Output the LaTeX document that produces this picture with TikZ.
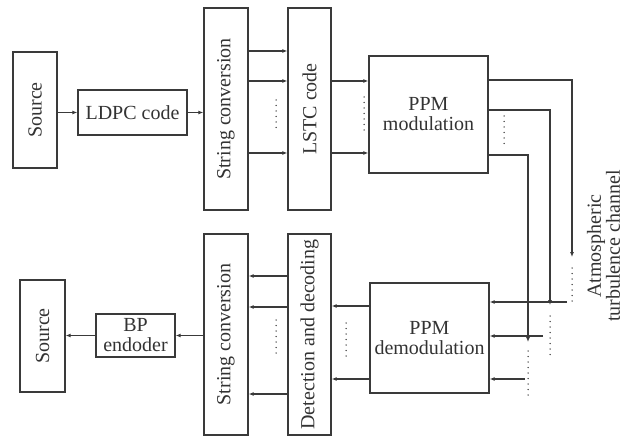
\documentclass[tikz,border=0pt]{standalone}
\usepackage{fontspec}
\setmainfont{Liberation Serif}
\usetikzlibrary{arrows.meta}
\definecolor{ink}{HTML}{333333}
\definecolor{edge}{HTML}{3a3a3a}
\begin{document}
\begin{tikzpicture}[x=1pt,y=1pt,
  block/.style={draw=edge, line width=1.3pt, inner sep=0pt, align=center,
                text=ink, font=\fontsize{20}{20}\selectfont},
  vtext/.style={rotate=90, inner sep=0pt, text=ink, font=\fontsize{20}{21}\selectfont},
  flow/.style={draw=edge, line width=1.2pt, -{Latex[length=5pt,width=4pt]}},
  wire/.style={draw=edge, line width=1.2pt},
  dots/.style={draw=edge, line width=1.5pt, line cap=round, dash pattern=on 0pt off 5.5pt},
]
\useasboundingbox (0,0) rectangle (626,437);

% transmitter chain
\node[block, minimum width=44, minimum height=116] (src1) at (35,327) {};
\node[vtext] at (src1) {Source};
\node[block, minimum width=109, minimum height=45] (ldpc) at (132.5,324.5) {LDPC code};
\node[block, minimum width=44, minimum height=202] (sc1) at (226,328) {};
\node[vtext] at (sc1) {String conversion};
\node[block, minimum width=43, minimum height=202] (lstc) at (309.5,328) {};
\node[vtext] at (lstc) {LSTC code};
\node[block, minimum width=119, minimum height=117] (ppmm) at (428.5,322.5) {PPM\\modulation};

% receiver chain
\node[block, minimum width=119, minimum height=110] (ppmd) at (429.5,99) {PPM\\demodulation};
\node[block, minimum width=43, minimum height=201] (det) at (309.5,102.5) {};
\node[vtext] at (det) {Detection and decoding};
\node[block, minimum width=44, minimum height=201] (sc2) at (226,102.5) {};
\node[vtext] at (sc2) {String conversion};
\node[block, minimum width=79, minimum height=43] (bp) at (135.5,101.5) {BP\\endoder};
\node[block, minimum width=45, minimum height=112] (src2) at (42.5,101) {};
\node[vtext] at (src2) {Source};

% channel label
\node[rotate=90, align=center, inner sep=0pt, text=ink,
      font=\fontsize{20}{17.5}\selectfont] (chan) at (603.5,191) {Atmospheric\\turbulence channel};

% transmitter links
\draw[flow] (ldpc.west -| src1.east) -- (ldpc.west);
\draw[flow] (ldpc.east) -- (ldpc.east -| sc1.west);
\foreach \y in {386,356,284} \draw[flow] (sc1.east |- 0,\y) -- (lstc.west |- 0,\y);
\foreach \y in {356,284} \draw[flow] (lstc.east |- 0,\y) -- (ppmm.west |- 0,\y);
\draw[dots] (276,337) -- (276,307);
\draw[dots] (364,340) -- (364,307);
\draw[dots] (504,321) -- (504,290);

% channel paths
\coordinate (c1) at (572,180);
\coordinate (c2) at (550,132);
\coordinate (c3) at (528,95);
\draw[flow] (ppmm.east |- 0,357) -| (c1);
\draw[flow] (ppmm.east |- 0,327) -| (c2);
\draw[flow] (ppmm.east |- 0,282) -| (c3);
\draw[dots] (572,169) -- (572,134);
\draw[dots] (550,121) -- (550,82);
\draw[dots] (528,86) -- (528,42);
\coordinate (r1) at (567,135);
\coordinate (r2) at (543,101);
\coordinate (r3) at (525,58);
\draw[flow] (r1) -- (ppmd.east |- r1);
\draw[flow] (r2) -- (ppmd.east |- r2);
\draw[flow] (r3) -- (ppmd.east |- r3);

% receiver links
\foreach \y in {131,58} \draw[flow] (ppmd.west |- 0,\y) -- (det.east |- 0,\y);
\draw[dots] (346,114) -- (346,80);
\foreach \y in {161,130,43} \draw[flow] (det.west |- 0,\y) -- (sc2.east |- 0,\y);
\draw[dots] (276,117) -- (276,80);
\draw[flow] (bp.east -| sc2.west) -- (bp.east);
\draw[flow] (bp.west) -- (bp.west -| src2.east);
\end{tikzpicture}
\end{document}
